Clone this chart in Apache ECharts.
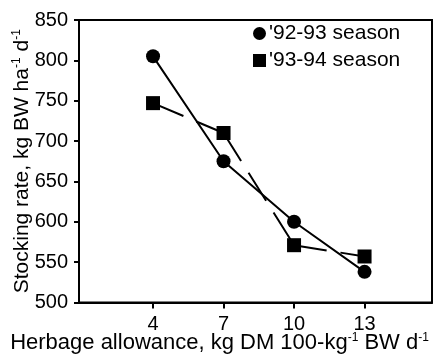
<!DOCTYPE html>
<html><head><meta charset="utf-8">
<script src="https://cdn.jsdelivr.net/npm/echarts@6/dist/echarts.min.js"></script>
<style>html,body{margin:0;padding:0;background:#fff}#c{width:439px;height:354px}</style>
</head><body><div id="c"></div>
<script>
var xValues = [4, 7, 10, 13];
var season9293 = [805, 675, 600, 538];
var season9394 = [747, 710, 571, 557];
var xTicks = [4, 7, 10, 13];
var yTicks = [500, 550, 600, 650, 700, 750, 800, 850];
var seriesNames = ["'92-93 season", "'93-94 season"];

function pairs(ys){ return xValues.map(function(x,i){return [x, ys[i]];}); }
var FONT = 'Liberation Sans, Arial, sans-serif';

// '93-94 line: one dashed segment per pair of points, so the dash restarts at each point
var p9394 = pairs(season9394);
var segSeries = [];
for (var i = 0; i < p9394.length - 1; i++) {
  segSeries.push({name: seriesNames[1], type: 'line', data: [p9394[i], p9394[i+1]], symbol: 'none',
    lineStyle: {color: '#000', width: 2, type: [33, 14]}, itemStyle: {color: '#000'}, z: 2});
}
function richTitle(size) {
  return {
    t: {fontFamily: FONT, fontSize: size, color: '#000', lineHeight: size + 1},
    s: {fontFamily: FONT, fontSize: 12, color: '#000', verticalAlign: 'top', lineHeight: 12}
  };
}

var chart = echarts.init(document.getElementById('c'));
chart.setOption({
  animation: false,
  grid: {left: 79, right: 7, top: 20, bottom: 51.5, show: true, borderColor: '#000', borderWidth: 2,
         backgroundColor: 'transparent', containLabel: false, outerBoundsMode: 'none'},
  legend: {
    orient: 'vertical', left: 248, top: 18, itemGap: 6, itemWidth: 13, itemHeight: 13,
    textStyle: {fontFamily: FONT, fontSize: 21, color: '#000', padding: [0,0,0,-2]},
    data: [{name: seriesNames[0], icon: 'circle'}, {name: seriesNames[1], icon: 'rect'}]
  },
  xAxis: {
    type: 'value', min: 0.85, max: 15.87,
    axisLine: {show: true, lineStyle: {color: '#000', width: 2}},
    axisTick: {show: true, inside: false, length: 6, lineStyle: {color: '#000', width: 2}, customValues: xTicks},
    axisLabel: {fontFamily: FONT, fontSize: 20, color: '#000', margin: 12, customValues: xTicks},
    splitLine: {show: false},
    name: '{t|Herbage allowance, kg DM 100-kg}{s|-1}{t| BW d}{s|-1}',
    nameLocation: 'middle', nameGap: 29, nameMoveOverlap: false,
    nameTextStyle: {rich: richTitle(22), padding: [0, 72, 0, 0]}
  },
  yAxis: {
    type: 'value', min: 500, max: 850, interval: 50,
    axisLine: {show: true, lineStyle: {color: '#000', width: 2}},
    axisTick: {show: true, inside: false, length: 5, lineStyle: {color: '#000', width: 2}},
    axisLabel: {fontFamily: FONT, fontSize: 20, color: '#000', margin: 11},
    splitLine: {show: false},
    name: '{t|Stocking rate, kg BW ha}{s|-1}{t| d}{s|-1}',
    nameLocation: 'middle', nameGap: 46, nameMoveOverlap: false,
    nameTextStyle: {rich: richTitle(21)}
  },
  series: [
    {name: seriesNames[0], type: 'line', data: pairs(season9293), symbol: 'circle', symbolSize: 14,
     itemStyle: {color: '#000', opacity: 1}, lineStyle: {color: '#000', width: 2}, z: 3},
    {name: seriesNames[1], type: 'scatter', data: p9394, symbol: 'rect', symbolSize: 14,
     itemStyle: {color: '#000', opacity: 1}, z: 3}
  ].concat(segSeries)
});
</script></body></html>
